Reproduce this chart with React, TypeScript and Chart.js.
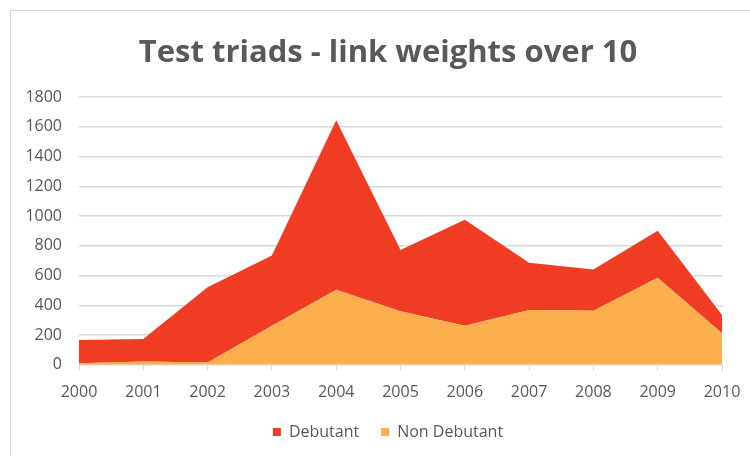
import React, { useEffect, useRef } from "react";
import { Chart, registerables } from "chart.js";

Chart.register(...registerables);

const years = ["2000", "2001", "2002", "2003", "2004", "2005", "2006", "2007", "2008", "2009", "2010"];
const nonDebutant = [10, 22, 16, 262, 505, 360, 262, 368, 364, 585, 212];
const debutant = [156, 151, 505, 473, 1140, 413, 714, 318, 277, 316, 123];
const titleText = "Test triads - link weights over 10";

const RED = "#F03C22";
const ORANGE = "#FCAF4C";
const TEXT = "#595959";
const GRID = "#D9D9D9";
const FONT = "'Open Sans', sans-serif";

export default function App() {
  const ref = useRef<HTMLCanvasElement | null>(null);

  useEffect(() => {
    if (!ref.current) return;
    const chart = new Chart(ref.current, {
      type: "line",
      data: {
        labels: years,
        datasets: [
          {
            label: "Non Debutant",
            data: nonDebutant,
            backgroundColor: ORANGE,
            borderColor: ORANGE,
            borderWidth: 0,
            pointRadius: 0,
            fill: "origin",
            tension: 0,
          },
          {
            label: "Debutant",
            data: debutant,
            backgroundColor: RED,
            borderColor: RED,
            borderWidth: 0,
            pointRadius: 0,
            fill: "-1",
            tension: 0,
          },
        ],
      },
      options: {
        responsive: false,
        animation: false,
        layout: { padding: { left: 13, right: 0, top: 0, bottom: 6 } },
        plugins: {
          title: {
            display: true,
            text: titleText,
            color: TEXT,
            font: { family: FONT, size: 31, weight: "bold" },
            padding: { top: 24, bottom: 25 },
          },
          legend: {
            display: true,
            position: "bottom",
            reverse: true,
            labels: {
              color: TEXT,
              font: { family: FONT, size: 16 },
              boxWidth: 8,
              boxHeight: 8,
              padding: 22,
            },
          },
          tooltip: { enabled: false },
        },
        scales: {
          x: {
            type: "category",
            offset: false,
            afterFit: (scale: any) => {
              scale.height -= 12;
              scale.paddingRight = 30;
            },
            grid: {
              display: true,
              drawOnChartArea: false,
              drawTicks: true,
              tickLength: 6,
              color: GRID,
            },
            border: { display: true, color: GRID },
            ticks: {
              color: TEXT,
              font: { family: FONT, size: 16 },
              padding: 12,
              maxRotation: 0,
              autoSkip: false,
            },
          },
          y: {
            stacked: true,
            min: 0,
            max: 1800,
            afterFit: (scale: any) => {
              scale.width = 55;
            },
            grid: { color: GRID, drawTicks: false, lineWidth: 1.5 },
            border: { display: false },
            ticks: {
              stepSize: 200,
              color: TEXT,
              font: { family: FONT, size: 16 },
              padding: 17,
              callback: (v: any) => String(v),
            },
          },
        },
      },
    });
    return () => chart.destroy();
  }, []);

  return (
    <div
      style={{
        position: "fixed",
        left: 10,
        top: 10,
        width: 770,
        height: 460,
        border: "1px solid #D9D9D9",
        background: "#fff",
      }}
    >
      <canvas ref={ref} width={741} height={445} style={{ display: "block" }} />
    </div>
  );
}
